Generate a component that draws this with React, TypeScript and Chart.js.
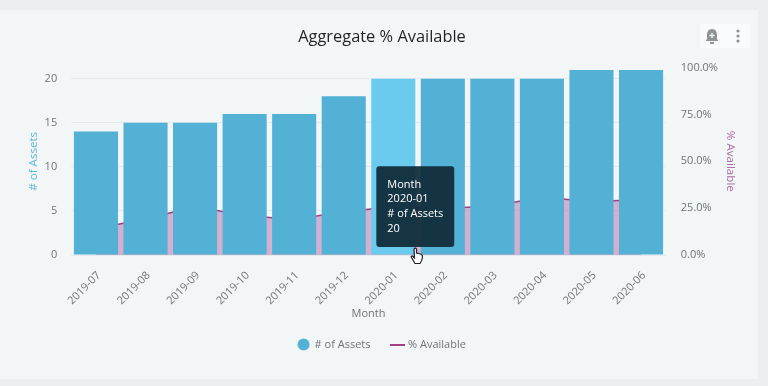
import React, { useEffect, useRef } from "react";
import { Chart, registerables, Tooltip } from "chart.js";

Chart.register(...registerables);

const months = ["2019-07","2019-08","2019-09","2019-10","2019-11","2019-12","2020-01","2020-02","2020-03","2020-04","2020-05","2020-06"];
const assets = [14,15,15,16,16,18,20,20,20,20,21,21];
const available = [14,19.4,25.8,21.2,18.8,23.2,25.6,25,26,31,28.4,29.6];
const leftTicks = [0,5,10,15,20];

const FONT = "'Open Sans'";
const GREY = "#6f7478";

(Tooltip.positioners as any).fixedBox = function (items: any[]) {
  if (!items.length) return false;
  const c = (this as any).chart;
  return { x: items[0].element.x + 22, y: c.scales.y.bottom - 8 };
};

function circleMarker(color: string) {
  const c = document.createElement("canvas");
  c.width = 13;
  c.height = 13;
  const g = c.getContext("2d")!;
  g.fillStyle = color;
  g.beginPath();
  g.arc(6.5, 6.5, 6, 0, Math.PI * 2);
  g.fill();
  return c;
}

function lineMarker(color: string) {
  const c = document.createElement("canvas");
  c.width = 15;
  c.height = 2;
  const g = c.getContext("2d")!;
  g.fillStyle = color;
  g.fillRect(0, 0, 15, 2);
  return c;
}

export default function App() {
  const ref = useRef<HTMLCanvasElement>(null);
  useEffect(() => {
    document.body.style.margin = "0";
    const chart = new Chart(ref.current!, {
      type: "bar",
      data: {
        labels: months,
        datasets: [
          {
            type: "bar",
            label: "# of Assets",
            data: assets,
            yAxisID: "y",
            order: 1,
            backgroundColor: "#52b1d5",
            hoverBackgroundColor: "#6bcbee",
            borderWidth: 0,
            barPercentage: 0.89,
            categoryPercentage: 1,
            pointStyle: circleMarker("#52b1d5"),
          },
          {
            type: "line",
            label: "% Available",
            data: available,
            yAxisID: "y1",
            order: 2,
            borderColor: "#a33f84",
            borderWidth: 1.5,
            backgroundColor: "rgba(176,106,170,0.5)",
            fill: "origin",
            tension: 0,
            pointRadius: 0,
            pointHoverRadius: 0,
            pointStyle: lineMarker("#a33f84"),
          },
        ] as any,
      },
      options: {
        responsive: false,
        animation: false,
        events: [],
        layout: { padding: { top: 27, left: 27, right: 31, bottom: 26 } },
        plugins: {
          title: {
            display: true,
            text: "Aggregate % Available",
            color: "#1f2326",
            font: { family: FONT, size: 16.4, weight: "normal" },
            padding: { top: 0, bottom: 21 },
          },
          legend: {
            position: "bottom",
            labels: {
              usePointStyle: true,
              color: GREY,
              boxWidth: 11,
              boxHeight: 11,
              padding: 21,
              font: { family: FONT, size: 11 },
            },
          },
          tooltip: {
            enabled: true,
            position: "fixedBox" as any,
            xAlign: "center",
            yAlign: "bottom",
            caretSize: 0,
            caretPadding: 0,
            cornerRadius: 3,
            displayColors: false,
            backgroundColor: "rgba(16,44,58,0.94)",
            padding: { top: 11, bottom: 11, left: 11, right: 11 },
            bodyColor: "#ffffff",
            bodyFont: { family: FONT, size: 11, lineHeight: 1.335 },
            bodySpacing: 0,
            callbacks: {
              title: () => [],
              label: (ctx: any) => ["Month", ctx.label, ctx.dataset.label, String(ctx.raw)],
            },
          },
        },
        scales: {
          x: {
            offset: true,
            grid: { display: false, drawTicks: false },
            border: { color: "#dfe5e8", z: -1 },
            ticks: { color: GREY, maxRotation: 45, minRotation: 45, labelOffset: 3, font: { family: FONT, size: 11 }, padding: 14 },
            title: { display: true, text: "Month", color: GREY, font: { family: FONT, size: 11 }, padding: { top: 0, bottom: -2 } },
            afterFit: (s: any) => { s.height = 63; },
          },
          y: {
            position: "left",
            min: 0,
            max: 21.25,
            afterBuildTicks: (s: any) => { s.ticks = leftTicks.map((value) => ({ value })); },
            grid: { color: "#e4e9ec", drawTicks: false },
            border: { display: false },
            ticks: { color: GREY, padding: 14, font: { family: FONT, size: 11 } },
            title: { display: true, text: "# of Assets", color: "#5db8d8", font: { family: FONT, size: 11.6 }, padding: 0 },
            afterFit: (s: any) => { s.width = 44.2; },
          },
          y1: {
            position: "right",
            min: 0,
            max: 100,
            grid: { display: false, drawTicks: false },
            border: { display: false },
            ticks: { stepSize: 25, color: GREY, padding: 15, font: { family: FONT, size: 11 }, callback: (v: any) => Number(v).toFixed(1) + "%" },
            title: { display: true, text: "% Available", color: "#ad6ca6", font: { family: FONT, size: 11.6 }, padding: 0 },
            afterFit: (s: any) => { s.width = 71.2; },
          },
        },
      } as any,
    });
    const active = [{ datasetIndex: 0, index: months.indexOf("2020-01") }];
    chart.setActiveElements(active);
    chart.tooltip!.setActiveElements(active, { x: 0, y: 0 });
    chart.update();
    return () => chart.destroy();
  }, []);

  return (
    <div style={{ position: "relative", width: 768, height: 386, background: "#ebeff0", overflow: "hidden" }}>
      <div style={{ position: "absolute", left: 0, top: 10, width: 758, height: 369, background: "#f3f6f7" }} />
      <canvas ref={ref} width={768} height={386} style={{ position: "absolute", left: 0, top: 0, display: "block" }} />
      <svg width={768} height={386} style={{ position: "absolute", left: 0, top: 0, pointerEvents: "none" }}>
        <rect x={700} y={24} width={50} height={24} fill="#f8fafb" />
        <path d="M712 29c-3.500 0-5 2.800-5 6v4l-1.500 2h13l-1.500-2v-4c0-3.200-1.500-6-5-6z" fill="#8e9396" />
        <rect x={710} y={42} width={4} height={2} fill="#8e9396" />
        <path d="M712 33v5M709.500 35.500h5" stroke="#f3f6f7" strokeWidth={1.3} />
        <circle cx={738} cy={31} r={1.6} fill="#8e9396" />
        <circle cx={738} cy={36} r={1.6} fill="#8e9396" />
        <circle cx={738} cy={41} r={1.6} fill="#8e9396" />
        <path d="M414 249c1-1.500 2.500-1 2.500 0.500v3.500l4 1c1.500 0.500 2 1 2 2.500 0 3-1 5-2.500 7h-5l-3.500-6c-0.700-1.500 0.500-2 1.500-1l1.500 1.500z" fill="#fff" stroke="#1b1f22" strokeWidth={1.2} />
      </svg>
    </div>
  );
}
